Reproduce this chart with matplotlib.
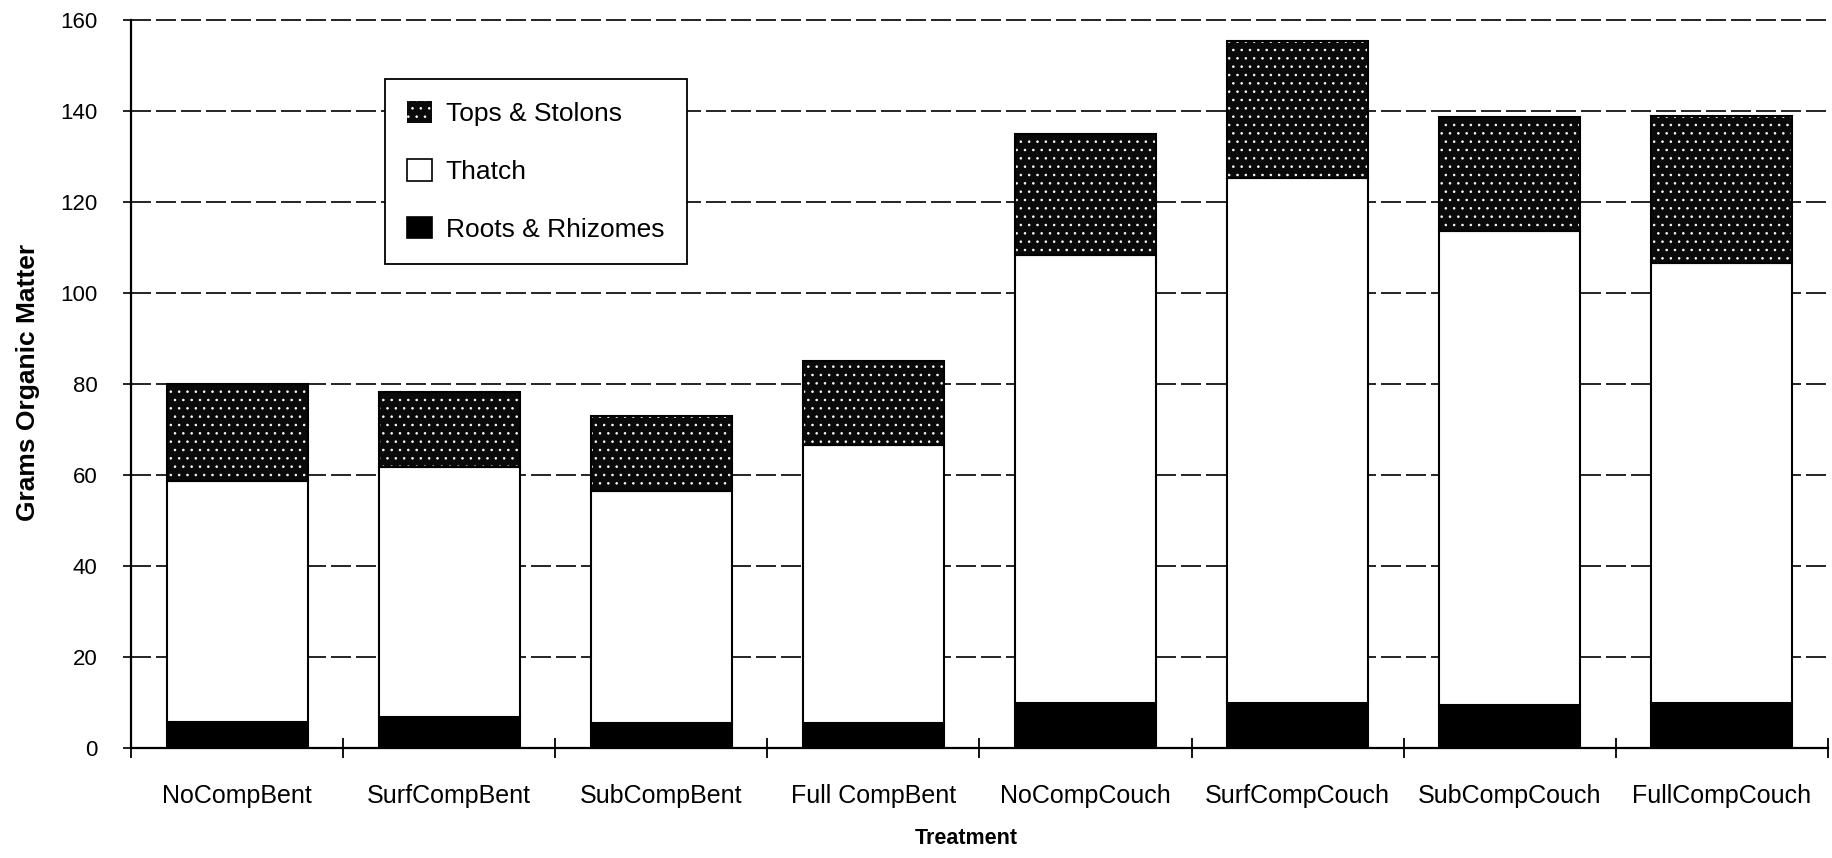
import matplotlib
matplotlib.use("Agg")
import matplotlib.pyplot as plt
from matplotlib.patches import Patch
import numpy as np

plt.rcParams['font.family'] = ['Liberation Sans', 'DejaVu Sans']
plt.rcParams['hatch.linewidth'] = 0.6

# Treatments and the three organic-matter fractions (grams)
categories = ["NoCompBent", "SurfCompBent", "SubCompBent", "Full CompBent",
              "NoCompCouch", "SurfCompCouch", "SubCompCouch", "FullCompCouch"]
roots_rhizomes = [5.7, 6.8, 5.6, 5.6, 9.9, 10.0, 9.5, 9.9]
thatch = [53.0, 55.0, 50.8, 61.0, 98.5, 115.3, 104.2, 96.7]
tops_stolons = [21.3, 16.5, 16.6, 18.4, 26.6, 30.1, 25.0, 32.2]

y_ticks = [0, 20, 40, 60, 80, 100, 120, 140, 160]

W, H = 1833, 858
fig = plt.figure(figsize=(W / 100, H / 100), dpi=100)
ax = fig.add_axes([131 / W, 1 - 748 / H, (1828 - 131) / W, 728 / H])

x = np.arange(len(categories))
bw = 0.665
roots_arr = np.array(roots_rhizomes)
thatch_arr = np.array(thatch)
tops_arr = np.array(tops_stolons)

TOPS_FACE = "#0a0a0a"
TOPS_HATCH = ".."

# Roots & Rhizomes: solid black
ax.bar(x, roots_arr, bw, color="black", edgecolor="black", linewidth=1.5, zorder=3)
# Thatch: white with black outline
ax.bar(x, thatch_arr, bw, bottom=roots_arr, color="white", edgecolor="black",
       linewidth=1.5, zorder=3)
# Tops & Stolons: dark fill with light speckles
ax.bar(x, tops_arr, bw, bottom=roots_arr + thatch_arr, color=TOPS_FACE,
       edgecolor="white", linewidth=0, hatch=TOPS_HATCH, zorder=3)
ax.bar(x, tops_arr, bw, bottom=roots_arr + thatch_arr, color="none",
       edgecolor="black", linewidth=1.5, zorder=4)

ax.set_xlim(-0.5, len(categories) - 0.5)
ax.set_ylim(0, 160)
ax.set_yticks(y_ticks)
ax.set_yticklabels([str(v) for v in y_ticks])
ax.tick_params(axis="y", direction="out", length=6, width=1.2, pad=18, labelsize=16)

# Category labels centred under bars, tick marks at the category boundaries
ax.set_xticks(x)
ax.set_xticklabels(categories)
ax.tick_params(axis="x", which="major", length=0, pad=26, labelsize=18)
ax.set_xticks(np.arange(len(categories) + 1) - 0.5, minor=True)
ax.tick_params(axis="x", which="minor", direction="inout", length=15, width=1.3)

ax.set_axisbelow(True)
ax.yaxis.grid(True, color="black", linestyle=(0, (12, 3)), linewidth=1.2)
for gl in ax.get_ygridlines():
    gl.set_clip_on(False)
for side in ("top", "right"):
    ax.spines[side].set_visible(False)
ax.spines["left"].set_linewidth(1.6)
ax.spines["bottom"].set_linewidth(1.6)

fig.text(28 / W, 1 - 382 / H, "Grams Organic Matter", rotation=90,
         ha="center", va="center", fontsize=19, fontweight="bold")
fig.text(966 / W, 1 - 839 / H, "Treatment", ha="center", va="center",
         fontsize=15.5, fontweight="bold")

handles = [
    Patch(facecolor=TOPS_FACE, edgecolor="white", hatch=TOPS_HATCH, linewidth=0),
    Patch(facecolor="white", edgecolor="black", linewidth=1.2),
    Patch(facecolor="black", edgecolor="black", linewidth=1.2),
]
labels = ["Tops & Stolons", "Thatch", "Roots & Rhizomes"]
leg = ax.legend(handles, labels, loc="upper left",
                bbox_to_anchor=(385 / W, 1 - 79 / H), bbox_transform=fig.transFigure,
                borderaxespad=0, fontsize=19, frameon=True, fancybox=False,
                framealpha=1, edgecolor="black", handlelength=0.95,
                handleheight=0.87, handletextpad=0.5, labelspacing=1.25,
                borderpad=0.85)
leg.get_frame().set_linewidth(1.3)
leg.set_zorder(10)

fig.savefig("out.png", dpi=100, facecolor="white")
